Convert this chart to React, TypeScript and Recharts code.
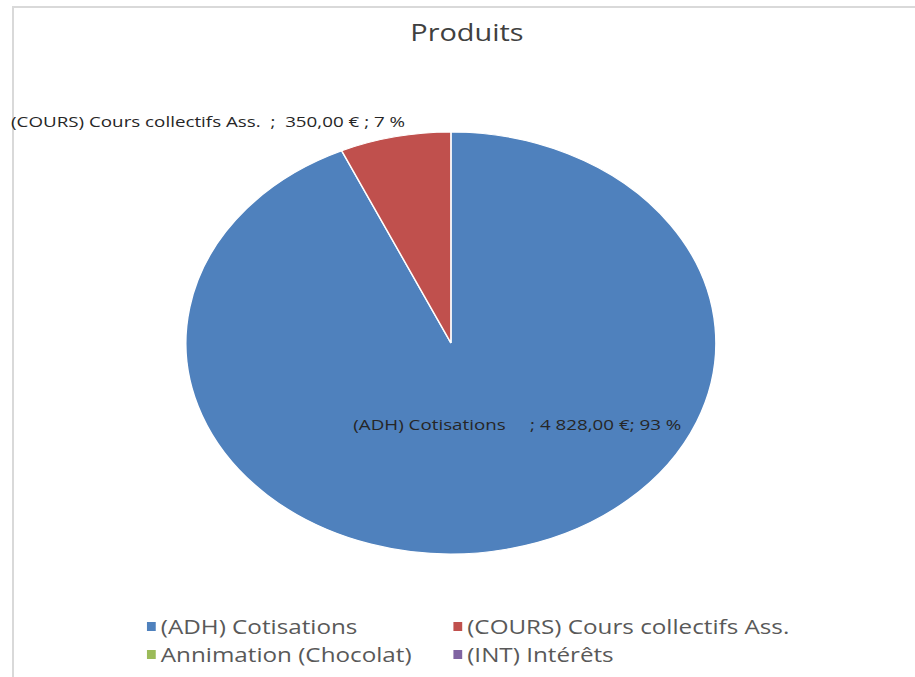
import React from 'react';
import { PieChart, Pie, Cell, Legend } from 'recharts';

const categories = [
  '(ADH) Cotisations',
  '(COURS) Cours collectifs Ass.',
  'Annimation (Chocolat)',
  '(INT) Intérêts',
];
const values = [4828, 350, 0, 0];
const colors = ['#4F81BD', '#C0504D', '#9BBB59', '#8064A2'];
const labelGaps = ['     ; ', '  ;  ', ' ; ', ' ; '];
const percentGaps = ['; ', ' ; ', ' ; ', ' ; '];
const title = 'Produits';

const data = categories.map((name, i) => ({ name, value: values[i] }));
const total = values.reduce((a, b) => a + b, 0);

const SX = 1.256;
const W = 915 / SX;
const H = 677;
const FONT = '"Open Sans", sans-serif';

const fmtEuro = (v: number) => {
  const [int, dec] = v.toFixed(2).split('.');
  const withSpaces = int.replace(/\B(?=(\d{3})+(?!\d))/g, ' ');
  return `${withSpaces},${dec} €`;
};

const RAD = Math.PI / 180;

const renderLabel = (props: any) => {
  const { cx, cy, midAngle, outerRadius, value, name, index } = props;
  if (!value) return null;
  const pct = Math.round((value / total) * 100);
  const text = `${name}${labelGaps[index]}${fmtEuro(value)}${percentGaps[index]}${pct} %`;
  const style = { fontFamily: FONT, fontSize: 14.95, whiteSpace: 'pre' as const };
  if (index === 0) {
    const r = outerRadius * 0.47;
    const x = cx + r * Math.cos(-midAngle * RAD) + 32;
    const y = cy + r * Math.sin(-midAngle * RAD) - 16;
    return (
      <text x={x} y={y} textAnchor="middle" dominantBaseline="central" fill="#262626" style={style}>
        {text}
      </text>
    );
  }
  const x = cx + outerRadius * Math.cos(-midAngle * RAD) + 8;
  const y = cy + outerRadius * Math.sin(-midAngle * RAD) - 15;
  return (
    <text x={x} y={y} textAnchor="end" dominantBaseline="central" fill="#262626" style={style}>
      {text}
    </text>
  );
};

const LegendContent = (props: any) => {
  const payload = [...(props.payload || [])].sort(
    (a: any, b: any) => categories.indexOf(a.value) - categories.indexOf(b.value)
  );
  return (
    <div
      style={{
        display: 'grid',
        gridTemplateColumns: '244px 300px',
        gridAutoRows: '28px',
        paddingLeft: 117,
        fontFamily: FONT,
        fontSize: 19.3,
        color: '#595959',
      }}
    >
      {payload.map((p: any, i: number) => (
        <div key={i} style={{ display: 'flex', alignItems: 'center', whiteSpace: 'nowrap' }}>
          <span
            style={{
              display: 'inline-block',
              width: 7,
              height: 9,
              background: p.color,
              marginRight: 4,
            }}
          />
          <span>{p.value}</span>
        </div>
      ))}
    </div>
  );
};

export default function App() {
  return (
    <div style={{ position: 'fixed', left: 0, top: 0, width: 915, height: 677, overflow: 'hidden', background: '#fff' }}>
      <div
        style={{
          position: 'absolute',
          left: 12,
          top: 6,
          width: 950,
          height: 720,
          borderLeft: '2px solid #d9d9d9',
          borderTop: '2px solid #d9d9d9',
        }}
      />
      <div
        style={{
          position: 'absolute',
          left: 0,
          top: 0,
          width: W,
          height: H,
          transform: `scaleX(${SX})`,
          transformOrigin: '0 0',
        }}
      >
        <div
          style={{
            position: 'absolute',
            left: 0,
            top: 16,
            width: W,
            textAlign: 'center',
            paddingLeft: 15,
            boxSizing: 'border-box',
            fontFamily: FONT,
            fontSize: 23,
            color: '#404040',
          }}
        >
          {title}
        </div>
        <PieChart width={W} height={H} margin={{ top: 0, right: 0, bottom: 0, left: 0 }}>
          <Pie
            data={data}
            dataKey="value"
            nameKey="name"
            cx={359}
            cy={343}
            outerRadius={211}
            startAngle={90}
            endAngle={-270}
            stroke="#ffffff"
            strokeWidth={1.2}
            label={renderLabel}
            labelLine={false}
            isAnimationActive={false}
          >
            {data.map((d, i) => (
              <Cell key={i} fill={colors[i]} stroke={d.value ? '#ffffff' : 'none'} />
            ))}
          </Pie>
          <Legend
            content={<LegendContent />}
            wrapperStyle={{ position: 'absolute', left: 0, top: 612, width: W }}
          />
        </PieChart>
      </div>
    </div>
  );
}
